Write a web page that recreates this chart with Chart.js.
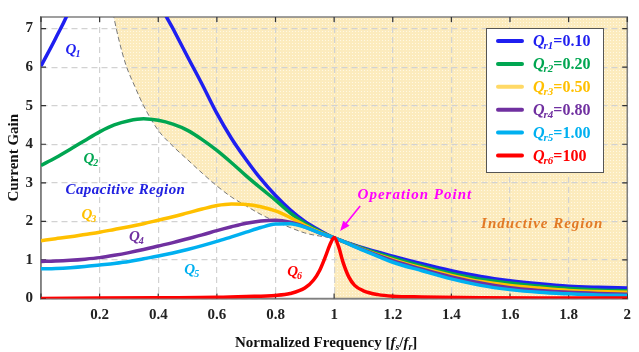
<!DOCTYPE html>
<html>
<head>
<meta charset="utf-8">
<script src="https://cdn.jsdelivr.net/npm/chart.js@4.4.1/dist/chart.umd.min.js"></script>
<style>
  html, body { margin: 0; padding: 0; background: #fff; }
  #wrap { width: 639px; height: 352px; }
</style>
</head>
<body>
<div id="wrap"><canvas id="c" width="639" height="352"></canvas></div>
<script>
// normalized frequency fs/fr shared by curves Q1..Q5
const freq = [0, 0.05, 0.1, 0.15, 0.2, 0.25, 0.3, 0.35, 0.4, 0.45, 0.5, 0.55, 0.6, 0.65, 0.7, 0.75,
  0.8, 0.85, 0.9, 0.95, 1.0, 1.1, 1.2, 1.3, 1.4, 1.5, 1.6, 1.7, 1.8, 1.9, 2.0]

// current gain (Q1 peaks above the visible range)
const gainQ1 = [6.03, 6.75, 7.55, 8.8, 9.8, 10.2, 9.9, 9.0, 7.75, 7.0, 6.27, 5.55, 4.8, 4.15, 3.6, 3.1,
  2.67, 2.3, 2.0, 1.77, 1.57, 1.31, 1.1, 0.9, 0.72, 0.57, 0.46, 0.38, 0.32, 0.29, 0.27]
const gainQ2 = [3.45, 3.65, 3.87, 4.1, 4.32, 4.5, 4.61, 4.66, 4.62, 4.52, 4.36, 4.12, 3.84, 3.52, 3.18, 2.86,
  2.55, 2.22, 1.95, 1.74, 1.57, 1.29, 1.05, 0.84, 0.65, 0.5, 0.4, 0.32, 0.26, 0.22, 0.2]
const gainQ3 = [1.5, 1.55, 1.6, 1.66, 1.72, 1.79, 1.86, 1.94, 2.03, 2.12, 2.22, 2.32, 2.41, 2.45, 2.44, 2.38,
  2.27, 2.1, 1.9, 1.72, 1.57, 1.27, 1.01, 0.79, 0.6, 0.44, 0.34, 0.27, 0.21, 0.18, 0.16]
const gainQ4 = [0.96, 0.97, 0.99, 1.02, 1.06, 1.12, 1.19, 1.27, 1.36, 1.45, 1.55, 1.65, 1.76, 1.86, 1.95, 2.01,
  2.03, 1.98, 1.86, 1.7, 1.57, 1.26, 0.98, 0.76, 0.56, 0.4, 0.28, 0.21, 0.16, 0.13, 0.11]
const gainQ5 = [0.77, 0.78, 0.8, 0.83, 0.87, 0.91, 0.96, 1.03, 1.1, 1.18, 1.27, 1.37, 1.48, 1.6, 1.72, 1.84,
  1.93, 1.94, 1.85, 1.7, 1.57, 1.25, 0.94, 0.72, 0.51, 0.34, 0.23, 0.16, 0.12, 0.09, 0.08]

// Q6 has a sharp resonance, so it gets its own finer frequency list
const freqQ6 = [0, 0.2, 0.4, 0.6, 0.7, 0.8, 0.85, 0.9, 0.93, 0.95, 0.97, 0.985, 1.0, 1.015, 1.03, 1.05,
  1.07, 1.1, 1.15, 1.2, 1.3, 1.5, 1.7, 2.0]
const gainQ6 = [0.0, 0.01, 0.02, 0.03, 0.05, 0.08, 0.13, 0.27, 0.48, 0.72, 1.08, 1.38, 1.58, 1.35, 0.95, 0.56,
  0.34, 0.2, 0.1, 0.06, 0.04, 0.02, 0.01, 0.01]

// dashed capacitive / inductive boundary
const boundaryFreq = [0.24, 0.265, 0.29, 0.32, 0.35, 0.4, 0.45, 0.5, 0.55, 0.6, 0.65, 0.7, 0.75, 0.8, 0.85, 0.9, 0.95, 1.0]
const boundaryGain = [7.6, 6.73, 6.05, 5.5, 5.0, 4.36, 3.95, 3.6, 3.25, 2.92, 2.63, 2.4, 2.18, 2.0, 1.84, 1.7, 1.62, 1.57]

const xTickValues = [0, 0.2, 0.4, 0.6, 0.8, 1, 1.2, 1.4, 1.6, 1.8, 2]
const yTickValues = [0, 1, 2, 3, 4, 5, 6, 7]

const seriesSubs = ['r1', 'r2', 'r3', 'r4', 'r5', 'r6']
const seriesValues = ['0.10', '0.20', '0.50', '0.80', '1.00', '100']
const seriesColors = ['#1f1ff0', '#00a651', '#ffc000', '#7030a0', '#00b0f0', '#ff0000']
const legendLineColors = ['#1f1ff0', '#00a651', '#ffd966', '#7030a0', '#00b0f0', '#ff0000']

const SERIF = '"Liberation Serif", "Times New Roman", serif'

const toPts = (xs, ys) => xs.map((x, i) => ({ x: x, y: ys[i] }))

// dotted light-yellow texture for the inductive region
function makePattern() {
  const p = document.createElement('canvas')
  p.width = 3; p.height = 3
  const g = p.getContext('2d')
  g.fillStyle = '#fcebbd'
  g.fillRect(0, 0, 3, 3)
  g.fillStyle = '#fff8e4'
  g.fillRect(1, 1, 1, 1)
  return g.createPattern(p, 'repeat')
}

function curve(label, xs, ys, color, order) {
  return {
    label: label,
    data: toPts(xs, ys),
    borderColor: color,
    borderWidth: 3.5,
    pointRadius: 0,
    fill: false,
    cubicInterpolationMode: 'monotone',
    order: order
  }
}

// Q with a subscript, (x, y) = centre / left of the text
function drawQ(ctx, x, y, sub, color, size, align) {
  const big = `italic bold ${size}px ${SERIF}`
  const small = `italic bold ${Math.round(size * 0.68)}px ${SERIF}`
  ctx.font = big
  const wQ = ctx.measureText('Q').width
  ctx.font = small
  const wS = ctx.measureText(sub).width
  const x0 = align === 'center' ? x - (wQ + wS) / 2 : x
  const base = y + size * 0.33
  ctx.fillStyle = color
  ctx.textAlign = 'left'
  ctx.textBaseline = 'alphabetic'
  ctx.font = big
  ctx.fillText('Q', x0, base)
  ctx.font = small
  ctx.fillText(sub, x0 + wQ - 1, base + size * 0.2)
  return x0 + wQ - 1 + wS
}

const framePlugin = {
  id: 'frame',
  beforeDatasetsDraw(chart) {
    const { ctx, chartArea: a, scales: { x, y } } = chart
    ctx.save()
    ctx.strokeStyle = '#808080'
    ctx.lineWidth = 1.5
    ctx.strokeRect(a.left, a.top, a.right - a.left, a.bottom - a.top)
    ctx.strokeStyle = '#333'
    ctx.lineWidth = 1.2
    ctx.beginPath()
    xTickValues.forEach(v => {
      const px = x.getPixelForValue(v)
      ctx.moveTo(px, a.top); ctx.lineTo(px, a.top + 5)
      ctx.moveTo(px, a.bottom); ctx.lineTo(px, a.bottom - 5)
    })
    yTickValues.forEach(v => {
      const py = y.getPixelForValue(v)
      ctx.moveTo(a.left, py); ctx.lineTo(a.left + 5, py)
      ctx.moveTo(a.right, py); ctx.lineTo(a.right - 5, py)
    })
    ctx.stroke()
    ctx.restore()
  }
}

const notesPlugin = {
  id: 'notes',
  afterDatasetsDraw(chart) {
    const { ctx, scales: { x, y } } = chart
    const X = v => x.getPixelForValue(v)
    const Y = v => y.getPixelForValue(v)
    ctx.save()
    // curve labels
    drawQ(ctx, X(0.111), Y(6.48), '1', seriesColors[0], 15, 'center')
    drawQ(ctx, X(0.172), Y(3.64), '2', seriesColors[1], 15, 'center')
    drawQ(ctx, X(0.165), Y(2.2), '3', seriesColors[2], 15, 'center')
    drawQ(ctx, X(0.327), Y(1.61), '4', seriesColors[3], 15, 'center')
    drawQ(ctx, X(0.516), Y(0.77), '5', seriesColors[4], 15, 'center')
    drawQ(ctx, X(0.867), Y(0.72), '6', seriesColors[5], 15, 'center')

    ctx.font = `italic bold 15px ${SERIF}`
    ctx.textBaseline = 'middle'
    ctx.textAlign = 'center'
    ctx.fillStyle = '#2121e0'
    ctx.letterSpacing = '0.4px'
    ctx.fillText('Capacitive Region', X(0.288), Y(2.8))
    ctx.fillStyle = '#e27a26'
    ctx.letterSpacing = '1px'
    ctx.fillText('Inductive Region', X(1.71), Y(1.94))
    ctx.textAlign = 'left'
    ctx.fillStyle = '#ff00ff'
    ctx.fillText('Operation Point', X(1.08), Y(2.68))
    ctx.letterSpacing = '0px'

    // arrow to the operation point
    const tx = X(1) + 6, ty = Y(1.57) - 7
    const sx = tx + 20, sy = ty - 25
    const ang = Math.atan2(ty - sy, tx - sx)
    ctx.strokeStyle = '#ff00ff'
    ctx.lineWidth = 1.6
    ctx.beginPath()
    ctx.moveTo(sx, sy)
    ctx.lineTo(tx - 6 * Math.cos(ang), ty - 6 * Math.sin(ang))
    ctx.stroke()
    ctx.fillStyle = '#ff00ff'
    ctx.beginPath()
    ctx.moveTo(tx, ty)
    ctx.lineTo(tx - 10 * Math.cos(ang) + 4 * Math.sin(ang), ty - 10 * Math.sin(ang) - 4 * Math.cos(ang))
    ctx.lineTo(tx - 10 * Math.cos(ang) - 4 * Math.sin(ang), ty - 10 * Math.sin(ang) + 4 * Math.cos(ang))
    ctx.closePath()
    ctx.fill()
    ctx.restore()
  },
  afterDraw(chart) {
    const { ctx, scales: { x } } = chart
    ctx.save()
    // legend box
    ctx.fillStyle = '#fff'
    ctx.fillRect(486.5, 28.5, 117, 144)
    ctx.strokeStyle = '#555'
    ctx.lineWidth = 1
    ctx.strokeRect(486.5, 28.5, 117, 144)
    seriesSubs.forEach((sub, i) => {
      const ry = 41 + i * 22.9
      ctx.strokeStyle = legendLineColors[i]
      ctx.lineWidth = 4
      ctx.lineCap = 'round'
      ctx.beginPath()
      ctx.moveTo(498, ry); ctx.lineTo(522, ry)
      ctx.stroke()
      const end = drawQ(ctx, 533, ry, sub, seriesColors[i], 16, 'left')
      ctx.font = `bold 16px ${SERIF}`
      ctx.fillText('=' + seriesValues[i], end, ry + 16 * 0.33)
    })

    // x axis title with italic subscripts
    const parts = [
      ['Normalized Frequency [', `bold 15px ${SERIF}`, 0],
      ['f', `italic bold 15px ${SERIF}`, 0],
      ['s', `italic bold 10px ${SERIF}`, 3],
      ['/', `bold 15px ${SERIF}`, 0],
      ['f', `italic bold 15px ${SERIF}`, 0],
      ['r', `italic bold 10px ${SERIF}`, 3],
      [']', `bold 15px ${SERIF}`, 0]
    ]
    let total = 0
    parts.forEach(p => { ctx.font = p[1]; total += ctx.measureText(p[0]).width })
    let cx = (x.left + x.right) / 2 - 8 - total / 2
    ctx.fillStyle = '#111'
    ctx.textAlign = 'left'
    ctx.textBaseline = 'alphabetic'
    parts.forEach(p => {
      ctx.font = p[1]
      ctx.fillText(p[0], cx, 347 + p[2])
      cx += ctx.measureText(p[0]).width
    })
    ctx.restore()
  }
}

const ctx = document.getElementById('c').getContext('2d')
const fillPts = toPts(boundaryFreq, boundaryGain).concat([{ x: 1, y: 0 }, { x: 2, y: 0 }])

new Chart(ctx, {
  type: 'line',
  data: {
    datasets: [
      curve('Q6', freqQ6, gainQ6, seriesColors[5], 0),
      curve('Q5', freq, gainQ5, seriesColors[4], 1),
      curve('Q4', freq, gainQ4, seriesColors[3], 2),
      curve('Q3', freq, gainQ3, seriesColors[2], 3),
      curve('Q2', freq, gainQ2, seriesColors[1], 4),
      Object.assign(curve('Q1', freq, gainQ1, seriesColors[0], 5), { clip: 0 }),
      {
        label: 'boundary',
        data: toPts(boundaryFreq, boundaryGain),
        borderColor: '#777',
        borderWidth: 1,
        borderDash: [5, 3],
        pointRadius: 0,
        fill: false,
        cubicInterpolationMode: 'monotone',
        order: 6
      },
      {
        label: 'inductive',
        data: fillPts,
        borderWidth: 0,
        borderColor: 'rgba(0,0,0,0)',
        backgroundColor: makePattern(),
        pointRadius: 0,
        fill: 'end',
        tension: 0,
        order: 7
      }
    ]
  },
  options: {
    responsive: false,
    animation: false,
    devicePixelRatio: 1,
    events: [],
    layout: { padding: { top: 10, right: 4, left: 0, bottom: 0 } },
    plugins: {
      legend: { display: false },
      tooltip: { enabled: false },
      filler: { drawTime: 'beforeDraw' }
    },
    scales: {
      x: {
        type: 'linear',
        min: 0,
        max: 2,
        afterBuildTicks: s => { s.ticks = xTickValues.map(v => ({ value: v })) },
        afterFit: s => { s.height = 53.5 },
        grid: { color: '#d2d2d2', lineWidth: 1.2, drawTicks: false },
        border: { display: true, color: '#808080', width: 1.5, dash: [6, 4] },
        ticks: {
          padding: 8,
          color: '#222',
          font: { family: SERIF, size: 15, weight: 'bold' },
          maxRotation: 0,
          autoSkip: false,
          callback: v => v === 0 ? '' : String(+v.toFixed(1))
        }
      },
      y: {
        type: 'linear',
        min: 0,
        max: 7.3,
        afterBuildTicks: s => { s.ticks = yTickValues.map(v => ({ value: v })) },
        afterFit: s => { s.width = 41 },
        grid: { color: '#d2d2d2', lineWidth: 1.2, drawTicks: false },
        border: { display: true, color: '#808080', width: 1.5, dash: [6, 4] },
        ticks: {
          padding: 8,
          color: '#222',
          font: { family: SERIF, size: 15, weight: 'bold' },
          callback: v => String(v)
        },
        title: {
          display: true,
          text: 'Current Gain',
          color: '#111',
          font: { family: SERIF, size: 15, weight: 'bold' },
          padding: { top: 5, bottom: 0 }
        }
      }
    }
  },
  plugins: [framePlugin, notesPlugin]
})
</script>
</body>
</html>
